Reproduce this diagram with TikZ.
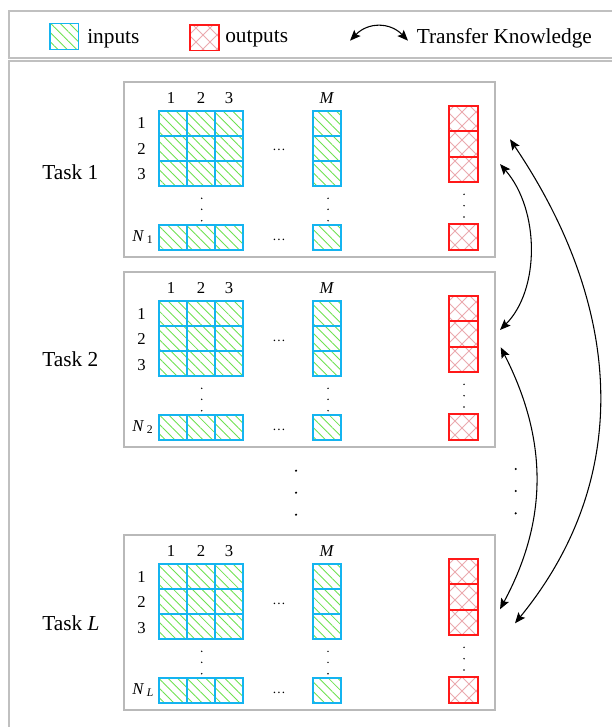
\documentclass[tikz,border=0pt]{standalone}
\usepackage{fontspec}
\setmainfont{Liberation Serif}
\usetikzlibrary{patterns.meta,arrows.meta}
\definecolor{frameGray}{RGB}{192,192,192}
\definecolor{boxGray}{RGB}{185,185,185}
\definecolor{inEdge}{RGB}{20,180,240}
\definecolor{inHatch}{RGB}{110,225,80}
\definecolor{outEdge}{RGB}{255,25,25}
\definecolor{outHatch}{RGB}{235,170,175}
\tikzset{
  frameline/.style={draw=frameGray, line width=1.1pt},
  taskbox/.style={draw=boxGray, line width=1.1pt},
  inpat/.style={pattern={Lines[angle=-45,distance=5pt,line width=0.65pt]}, pattern color=inHatch},
  inedge/.style={draw=inEdge, line width=1pt},
  hatchline/.style={draw=outHatch, line width=0.6pt},
  outedge/.style={draw=outEdge, line width=1.1pt},
  biglbl/.style={font=\fontsize{16}{19}\selectfont, inner sep=0pt},
  gridlbl/.style={font=\fontsize{12.5}{15}\selectfont, inner sep=0pt},
  hdots/.style={font=\fontsize{10}{12}\selectfont, inner sep=0pt},
  tip/.tip={Stealth[length=8pt,width=6.5pt,inset=1.5pt]},
  xfer/.style={line width=0.8pt, tip-tip},
}

% diagonal cross-hatching inside the rectangle (#1,#2)-(#3,#4)
\newcommand\xhatch[4]{%
\begin{scope}
  \clip (#1,#2) rectangle (#3,#4);
  \foreach \c in {126,140,...,378}
    \draw[hatchline] ({\c+#2-30},{#2-30}) -- ({\c+#4+30},{#4+30});
  \foreach \d in {210,224,...,742}
    \draw[hatchline] ({\d-#2+30},{#2-30}) -- ({\d-#4-30},{#4+30});
\end{scope}}

% One task panel: #1 vertical offset, #2 name prefix, #3 task index, #4 label baseline
\newcommand\taskpanel[4]{%
\begin{scope}[shift={(0,#1)}]
  \draw[taskbox] (124,82) rectangle (495,257);
  \node[biglbl, anchor=base west] (#2-name) at (42,#4) {Task #3};
  % column and row headers
  \foreach \cx/\ct in {171/1,201/2,229/3}
    \node[gridlbl, anchor=base] (#2-col\ct) at (\cx,103.3) {\ct};
  \node[gridlbl, anchor=base] (#2-colM) at (327,103.3) {\textit{M}};
  \foreach \rt/\rb in {1/129,2/154.5,3/180}
    \node[gridlbl, anchor=base] (#2-row\rt) at (141.5,\rb) {\rt};
  \node[gridlbl, anchor=base west] (#2-rowN) at (132,241) {\textit{N}\,\textsubscript{#3}};
  % input cells
  \path[inpat] (159,111) rectangle (243,186) (159,225) rectangle (243,250)
               (313,111) rectangle (341,186) (313,225) rectangle (341,250);
  \foreach \r in {0,1,2}{
    \foreach \c in {0,1,2}
      \draw[inedge] ({159+28*\c},{111+25*\r}) rectangle ++(28,25);
    \draw[inedge] (313,{111+25*\r}) rectangle ++(28,25);
  }
  \foreach \c in {0,1,2}
    \draw[inedge] ({159+28*\c},225) rectangle ++(28,25);
  \draw[inedge] (313,225) rectangle ++(28,25);
  % output cells
  \xhatch{449}{106}{478}{182}
  \xhatch{449}{224}{478}{250}
  \foreach \oy in {106,131,157}
    \draw[outedge] (449,\oy) rectangle ++(29,{\oy==157 ? 25 : (\oy==131 ? 26 : 25)});
  \draw[outedge] (449,224) rectangle (478,250);
  % ellipses
  \node[hdots, anchor=base] (#2-hdA) at (279,151) {\ldots};
  \node[hdots, anchor=base] (#2-hdB) at (279,240) {\ldots};
  \foreach \y in {198.3,209.3,220.7}{
    \fill (201.7,\y) circle[radius=0.6pt];
    \fill (328,\y) circle[radius=0.6pt];
  }
  \foreach \y in {194.3,205.7,217}
    \fill (464,\y) circle[radius=0.6pt];
\end{scope}}

\begin{document}
\begin{tikzpicture}[x=0.75pt,y=-0.75pt]
\useasboundingbox (0,0) rectangle (611,727);

% legend frame and main frame
\draw[frameline] (616,11) -- (9,11) -- (9,57.8) -- (616,57.8);
\draw[frameline] (616,61) -- (9,61) -- (9,732);

% legend
\path[inpat] (50,23.3) rectangle (78.7,49.3);
\draw[inedge] (50,23.3) rectangle (78.7,49.3);
\node[biglbl, anchor=base west] (legIn) at (87,44) {inputs};
\xhatch{190}{25}{219}{50.7}
\draw[outedge] (190,25) rectangle (219,50.7);
\node[biglbl, anchor=base west] (legOut) at (225,43) {outputs};
\coordinate (legA) at (350,40.7);
\coordinate (legB) at (408,40.7);
\draw[xfer] (legA) .. controls (368,22) and (390,22) .. (legB);
\node[biglbl, anchor=base west] (legTK) at (416.5,43.3) {Transfer Knowledge};

% task panels
\taskpanel{0}{t1}{1}{179.3}
\taskpanel{190}{t2}{2}{176.5}
\taskpanel{453}{tL}{\textit{L}}{177}

% omitted tasks
\foreach \y in {470.7,492.7,514.7}
  \fill (296,\y) circle[radius=0.9pt];
\foreach \y in {469,491,513.3}
  \fill (515.7,\y) circle[radius=0.9pt];

% knowledge transfer between tasks
\coordinate (oneA) at (510,139.3);
\coordinate (oneB) at (500,164);
\coordinate (twoA) at (500,330);
\coordinate (twoB) at (500.7,347.3);
\coordinate (lastA) at (500,609.3);
\coordinate (lastB) at (515,623.3);
\draw[xfer] (oneA) .. controls (625,310) and (632,480) .. (lastB);
\draw[xfer] (oneB) .. controls (540,210) and (540,290) .. (twoA);
\draw[xfer] (twoB) .. controls (548,440) and (548,520) .. (lastA);
\end{tikzpicture}
\end{document}
